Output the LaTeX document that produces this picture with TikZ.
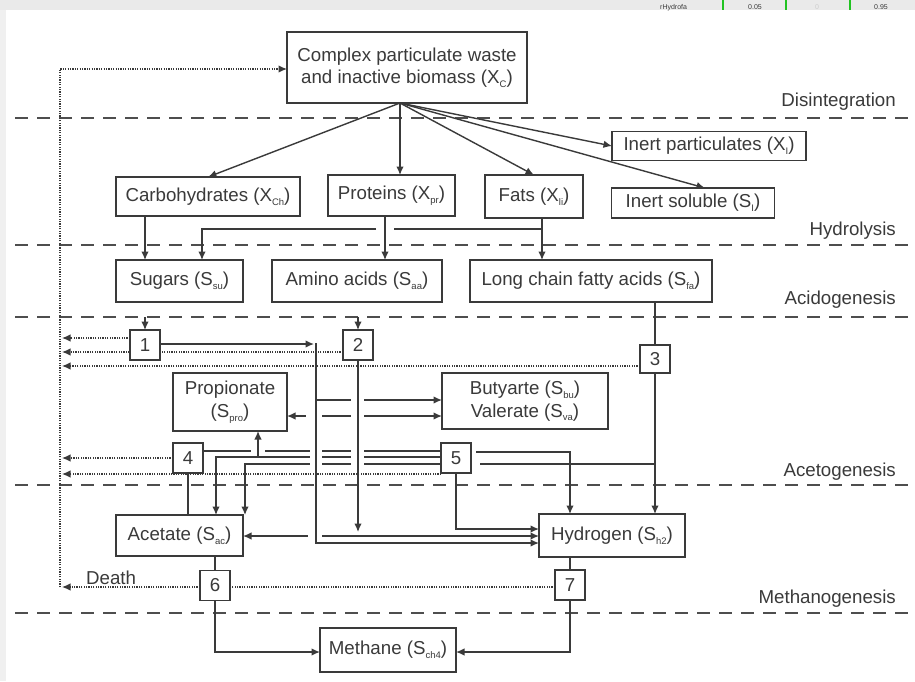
\documentclass[tikz,border=0pt]{standalone}
\usepackage{fontspec}
\setmainfont{Liberation Sans}
\usetikzlibrary{arrows.meta,calc}
\definecolor{ink}{HTML}{3A3A3A}
\definecolor{bandgray}{HTML}{EAEAEA}
\definecolor{cellgreen}{HTML}{22C322}
\newcommand\sbx[1]{\raisebox{-0.4ex}{\fontsize{9.5}{10}\selectfont #1}}
\newcommand\boxfont{\fontsize{18.7}{22.5}\selectfont}
\begin{document}
\begin{tikzpicture}[x=1pt,y=-1pt,
  box/.style={draw=ink,line width=1.4pt,fill=white,inner sep=0pt,text=ink,font=\boxfont,align=center},
  num/.style={box,minimum width=30pt,minimum height=30pt},
  wire/.style={draw=ink,line width=1.4pt},
  arr/.style={wire,-{Latex[length=8.5pt,width=7.5pt]}},
  larr/.style={wire,{Latex[length=8.5pt,width=7.5pt]}-},
  dots/.style={draw=ink,line width=1.3pt,dash pattern=on 1.2pt off 1.2pt},
  darr/.style={dots,-{Latex[length=8.5pt,width=7.5pt]}},
  phase/.style={draw=ink!90,line width=1.5pt,dash pattern=on 13pt off 9pt},
  lbl/.style={text=ink,font=\boxfont,inner sep=0pt},
  cell/.style={text=ink,font=\fontsize{7}{7}\selectfont,inner sep=0pt}
]
\useasboundingbox (0,0) rectangle (915,681);
\fill[white] (0,0) rectangle (915,681);
% spreadsheet strip and left margin
\fill[bandgray] (0,0) rectangle (915,10);
\fill[bandgray!70] (0,10) rectangle (6,681);
\begin{scope}
\clip (0,0) rectangle (915,10);
\node[cell,anchor=base west] (c1) at (660,9) {rHydrofa};
\node[cell,anchor=base] (c2) at (755,9) {0.05};
\node[cell,anchor=base,text=ink!25] (c3) at (817,9) {0};
\node[cell,anchor=base] (c4) at (881,9) {0.95};
\foreach \xx in {723,786,850} \draw[cellgreen,line width=1.2pt] (\xx,0) -- (\xx,10);
\end{scope}

% phase separators and labels
\foreach \yy in {118,245,317,485,613} \draw[phase] (15,\yy) -- (915,\yy);
\node[lbl,anchor=east] (pDis) at (896,102) {Disintegration};
\node[lbl,anchor=east] (pHyd) at (896,231) {Hydrolysis};
\node[lbl,anchor=east] (pAci) at (896,300) {Acidogenesis};
\node[lbl,anchor=east] (pAce) at (896,472) {Acetogenesis};
\node[lbl,anchor=east] (pMet) at (896,599) {Methanogenesis};

% coordinates
\coordinate (xo) at (400,103);
\coordinate (colTop) at (60,69);
\coordinate (colBot) at (60,587);

% ---- death / decay dotted collector ----
\draw[darr] (colBot) -- (colTop) -- (287,69);
\draw[darr] (130,338) -- (62,338);
\draw[darr] (343,352) -- (62,352);
\draw[darr] (640,366) -- (62,366);
\draw[darr] (173,458) -- (62,458);
\draw[darr] (441,474) -- (62,474);
\draw[darr] (200,587) -- (62,587);
\draw[dots] (555,587) -- (230,587);
\node[lbl,anchor=base west] (death) at (86,584) {Death};

% ---- disintegration ----
\draw[arr] (xo) -- (208,177);
\draw[arr] (xo) -- (400,175);
\draw[arr] (xo) -- (534,175);
\draw[arr] (xo) -- (612,146);
\draw[arr] (xo) -- (705,188);

% ---- hydrolysis ----
\draw[arr] (145,216) -- (145,260);
\draw[arr] (385,216) -- (385,260);
\draw[arr] (542,218) -- (542,260);
\draw[wire] (542,229) -- (394,229);
\draw[arr] (376,229) -- (202,229) -- (202,260);

% ---- acidogenesis ----
\draw[arr] (145,317) -- (145,330);
\draw[arr] (358,317) -- (358,330);
\draw[wire] (655,302) -- (655,345);
\draw[arr] (655,373) -- (655,514);
\draw[arr] (160,344) -- (314,344);
\draw[arr] (316,343) -- (316,543) -- (539,543);
\draw[arr] (358,360) -- (358,532);
% to butyrate / valerate and propionate
\draw[wire] (316,400) -- (351,400);
\draw[arr] (364,400) -- (442,400);
\draw[larr] (287,416) -- (306,416);
\draw[wire] (322,416) -- (351,416);
\draw[arr] (364,416) -- (442,416);

% ---- acetogenesis ----
\draw[wire] (188,473) -- (188,515);
% line 1 (from 4 to 5)
\draw[wire] (202,451) -- (251,451);
\draw[wire] (265,451) -- (310,451);
\draw[wire] (322,451) -- (351,451);
\draw[wire] (364,451) -- (441,451);
% line 2
\draw[larr] (216,515) -- (216,457) -- (310,457);
\draw[wire] (322,457) -- (351,457);
\draw[wire] (364,457) -- (441,457);
\draw[arr] (258,457) -- (258,431);
% line 3
\draw[larr] (245,515) -- (245,464) -- (310,464);
\draw[wire] (322,464) -- (351,464);
\draw[wire] (364,464) -- (441,464);
\draw[wire] (480,464) -- (655,464);
% from 5
\draw[arr] (476,452) -- (570,452) -- (570,514);
\draw[arr] (456,473) -- (456,529) -- (539,529);
% acetate / hydrogen link
\draw[larr] (243,536) -- (308,536);
\draw[arr] (322,536) -- (539,536);

% ---- methanogenesis ----
\draw[wire] (215,556) -- (215,571);
\draw[arr] (215,600) -- (215,652) -- (320,652);
\draw[wire] (570,557) -- (570,570);
\draw[arr] (570,600) -- (570,652) -- (456,652);

% ---- boxes ----
\node[box,minimum width=240pt,minimum height=71pt] (xc) at (407,67.5) {Complex particulate waste\\and inactive biomass (X\sbx{C})};
\node[box,minimum width=194pt,minimum height=29pt] (inp) at (709,146) {Inert particulates (X\sbx{I})};
\node[box,minimum width=184pt,minimum height=39pt] (carb) at (208,196.5) {Carbohydrates (X\sbx{Ch})};
\node[box,minimum width=127pt,minimum height=41pt] (prot) at (391.5,195.5) {Proteins (X\sbx{pr})};
\node[box,minimum width=98pt,minimum height=43pt] (fats) at (534,196.5) {Fats (X\sbx{li})};
\node[box,minimum width=163pt,minimum height=30pt] (ins) at (693,203) {Inert soluble (S\sbx{I})};
\node[box,minimum width=127pt,minimum height=42pt] (sug) at (179.5,281) {Sugars (S\sbx{su})};
\node[box,minimum width=170pt,minimum height=42pt] (ami) at (357,281) {Amino acids (S\sbx{aa})};
\node[box,minimum width=242pt,minimum height=42pt] (lcfa) at (591,281) {Long chain fatty acids (S\sbx{fa})};
\node[num] (b1) at (145,345) {1};
\node[num] (b2) at (358,345) {2};
\node[num,minimum height=28pt] (b3) at (655,359) {3};
\node[box,minimum width=114pt,minimum height=58pt] (pro) at (230,402) {Propionate\\(S\sbx{pro})};
\node[box,minimum width=166pt,minimum height=56pt] (buva) at (525,401) {Butyarte (S\sbx{bu})\\Valerate (S\sbx{va})};
\node[num] (b4) at (188,458) {4};
\node[num] (b5) at (456,458) {5};
\node[box,minimum width=127pt,minimum height=41pt] (ace) at (179.5,535.5) {Acetate (S\sbx{ac})};
\node[box,minimum width=146pt,minimum height=43pt] (hyd) at (612,535.5) {Hydrogen (S\sbx{h2})};
\node[num] (b6) at (215,585.5) {6};
\node[num] (b7) at (570,585) {7};
\node[box,minimum width=136pt,minimum height=44pt] (met) at (388,650) {Methane (S\sbx{ch4})};
\end{tikzpicture}
\end{document}
